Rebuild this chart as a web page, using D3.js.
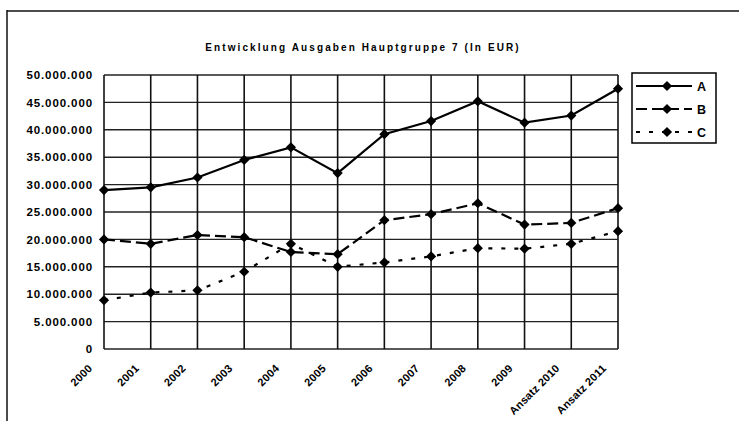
<!DOCTYPE html>
<html>
<head>
<meta charset="utf-8">
<script src="https://cdn.jsdelivr.net/npm/d3@7"></script>
<style>
  body { margin: 0; background: #fff; }
  text { font-family: "Liberation Sans", Arial, sans-serif; font-weight: bold; fill: #000; }
</style>
</head>
<body>
<div id="chart"></div>
<script>
const categories = ['2000', '2001', '2002', '2003', '2004', '2005', '2006', '2007', '2008', '2009', 'Ansatz 2010', 'Ansatz 2011'];
const seriesA = [29000000, 29500000, 31300000, 34500000, 36800000, 32100000, 39200000, 41600000, 45200000, 41300000, 42600000, 47500000];
const seriesB = [20000000, 19200000, 20800000, 20400000, 17700000, 17300000, 23500000, 24600000, 26600000, 22700000, 23000000, 25700000];
const seriesC = [8900000, 10300000, 10700000, 14100000, 19200000, 15000000, 15800000, 16900000, 18400000, 18300000, 19200000, 21500000];
const seriesNames = ['A', 'B', 'C'];
const yTicks = [0, 5000000, 10000000, 15000000, 20000000, 25000000, 30000000, 35000000, 40000000, 45000000, 50000000];

const width = 739, height = 421;
const svg = d3.select('#chart').append('svg')
  .attr('width', width)
  .attr('height', height);

const x = d3.scalePoint().domain(categories).range([104, 618]);
const y = d3.scaleLinear().domain([0, 50000000]).range([349, 75]);
const de = d3.formatLocale({ decimal: ',', thousands: '.', grouping: [3], currency: ['', ' €'] });
const fmt = de.format(',d');

// page frame (scan border)
svg.append('line').attr('x1', 7).attr('x2', width).attr('y1', 11).attr('y2', 11)
  .attr('stroke', '#111').attr('stroke-width', 1.5);
svg.append('line').attr('x1', 7).attr('x2', 7).attr('y1', 10).attr('y2', height)
  .attr('stroke', '#111').attr('stroke-width', 1.5);

// title
svg.append('text')
  .attr('x', 363).attr('y', 51)
  .attr('text-anchor', 'middle')
  .attr('font-size', 10)
  .attr('letter-spacing', 2.1)
  .text('Entwicklung Ausgaben Hauptgruppe 7 (In EUR)');

// grid
const grid = svg.append('g');
grid.selectAll('line.h').data(yTicks).join('line')
  .attr('class', 'h')
  .attr('x1', 104).attr('x2', 618)
  .attr('y1', d => y(d)).attr('y2', d => y(d))
  .attr('stroke', '#222').attr('stroke-width', 1.4);
grid.selectAll('line.v').data(categories).join('line')
  .attr('class', 'v')
  .attr('x1', d => x(d)).attr('x2', d => x(d))
  .attr('y1', y(50000000)).attr('y2', y(0))
  .attr('stroke', '#111').attr('stroke-width', 1.6);

// y axis labels
const yAxis = svg.append('g')
  .attr('transform', 'translate(104,0)')
  .call(d3.axisLeft(y).tickValues(yTicks).tickFormat(fmt).tickSize(0).tickPadding(11));
yAxis.select('.domain').remove();
yAxis.selectAll('text')
  .attr('font-size', 11.5)
  .attr('letter-spacing', 0.9)
  .style('font-family', '"Liberation Sans", Arial, sans-serif')
  .style('font-weight', 'bold');

// x labels
svg.append('g').selectAll('text').data(categories).join('text')
  .attr('transform', d => `translate(${x(d) - 11},${369}) rotate(-45)`)
  .attr('text-anchor', 'end')
  .attr('font-size', 11)
  .attr('letter-spacing', 0.2)
  .text(d => d);

const series = [
  { name: seriesNames[0], values: seriesA, dash: null },
  { name: seriesNames[1], values: seriesB, dash: '11,5' },
  { name: seriesNames[2], values: seriesC, dash: '4,9' }
];

const line = d3.line()
  .x((d, i) => x(categories[i]))
  .y(d => y(d));

const diamond = d3.symbol().type(d3.symbolSquare).size(52);

series.forEach(s => {
  const g = svg.append('g');
  g.append('path')
    .attr('d', line(s.values))
    .attr('fill', 'none')
    .attr('stroke', '#000')
    .attr('stroke-width', 2.2)
    .attr('stroke-dasharray', s.dash);
  g.selectAll('path.m').data(s.values).join('path')
    .attr('class', 'm')
    .attr('d', diamond)
    .attr('transform', (d, i) => `translate(${x(categories[i])},${y(d)}) rotate(45)`)
    .attr('fill', '#000');
});

// legend
const legend = svg.append('g');
legend.append('rect')
  .attr('x', 632).attr('y', 73).attr('width', 84).attr('height', 70)
  .attr('fill', '#fff').attr('stroke', '#000').attr('stroke-width', 1.5);
series.forEach((s, i) => {
  const ly = 86 + i * 23;
  legend.append('line')
    .attr('x1', 636).attr('x2', 692).attr('y1', ly).attr('y2', ly)
    .attr('stroke', '#000').attr('stroke-width', 2)
    .attr('stroke-dasharray', s.dash);
  legend.append('path')
    .attr('d', diamond)
    .attr('transform', `translate(667,${ly}) rotate(45)`)
    .attr('fill', '#000');
  legend.append('text')
    .attr('x', 697).attr('y', ly + 4.5)
    .attr('font-size', 12.5)
    .text(s.name);
});
</script>
</body>
</html>
